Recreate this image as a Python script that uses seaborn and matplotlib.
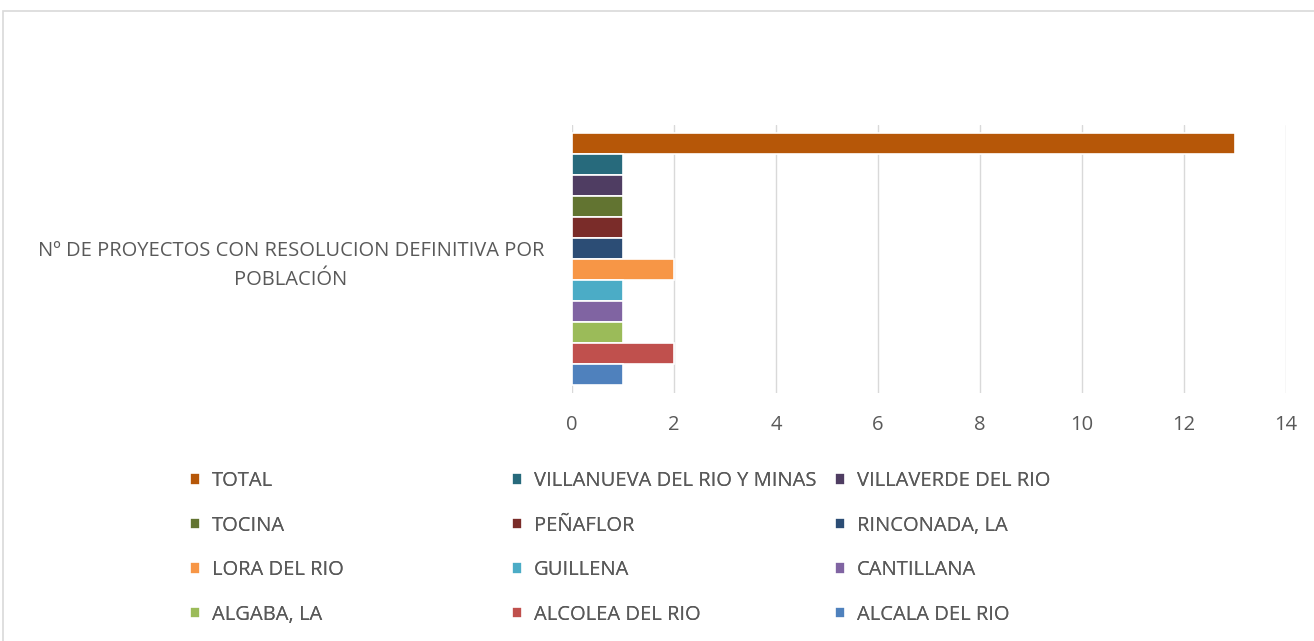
import pandas as pd
import seaborn as sns
import matplotlib.pyplot as plt
from matplotlib.patches import Rectangle

category = "Nº DE PROYECTOS CON RESOLUCION DEFINITIVA POR\nPOBLACIÓN"

municipios = [
    "TOTAL", "VILLANUEVA DEL RIO Y MINAS", "VILLAVERDE DEL RIO",
    "TOCINA", "PEÑAFLOR", "RINCONADA, LA",
    "LORA DEL RIO", "GUILLENA", "CANTILLANA",
    "ALGABA, LA", "ALCOLEA DEL RIO", "ALCALA DEL RIO",
]
proyectos = [13, 1, 1, 1, 1, 1, 2, 1, 1, 1, 2, 1]
colores = [
    "#B65708", "#276A7C", "#4F3D62",
    "#627431", "#7A2C29", "#2C4D75",
    "#F79646", "#4BACC6", "#8064A2",
    "#9BBB59", "#C0504D", "#4F81BD",
]
xticks = [0, 2, 4, 6, 8, 10, 12, 14]

df = pd.DataFrame({
    "cat": [category] * len(municipios),
    "municipio": municipios,
    "n": proyectos,
})

sns.set_style("white")
plt.rcParams["font.family"] = ["Open Sans", "DejaVu Sans"]

fig = plt.figure(figsize=(13.14, 6.41), dpi=100)
ax = fig.add_axes([0.4353, 0.387, 0.5434, 0.418])

sns.barplot(
    data=df, x="n", y="cat", hue="municipio", hue_order=municipios,
    palette=colores, orient="h", width=0.94, ax=ax,
    edgecolor="white", linewidth=1.2, saturation=1, errorbar=None,
)

ax.set_xlim(0, 14)
ax.set_ylim(0.5, -0.5)
ax.set_xticks(xticks)
ax.set_xticklabels([str(t) for t in xticks])
ax.xaxis.grid(True, color="#D9D9D9", linewidth=1)
ax.set_axisbelow(True)
for s in ax.spines.values():
    s.set_visible(False)
ax.tick_params(axis="both", length=0, labelsize=14.5, colors="#595959")
ax.tick_params(axis="x", pad=16)
ax.tick_params(axis="y", pad=20)
for lbl in ax.get_yticklabels():
    lbl.set_multialignment("center")
    lbl.set_linespacing(1.55)
ax.set_xlabel("")
ax.set_ylabel("")

# legend: three fixed columns, filled row by row
handles, labels = ax.get_legend_handles_labels()
ax.get_legend().remove()
col_x = [193 / 1314, 515 / 1314, 838 / 1314]
for c in range(3):
    idx = [c, c + 3, c + 6, c + 9]
    leg = fig.legend(
        [handles[i] for i in idx], [labels[i] for i in idx],
        loc="upper left", bbox_to_anchor=(col_x[c] - 0.002, 1 - 471 / 641),
        frameon=False, fontsize=14.5, labelcolor="#595959", borderpad=0,
        borderaxespad=0, handlelength=0.5, handleheight=0.5,
        handletextpad=0.55, labelspacing=1.22,
    )
    fig.add_artist(leg)

# chart frame
fig.patches.append(Rectangle((3 / 1314, -0.1), 1.2, 1 - 11 / 641 + 0.1,
                             transform=fig.transFigure, fill=False,
                             edgecolor="#D9D9D9", linewidth=1.2))

fig.savefig("out.png", dpi=100)
